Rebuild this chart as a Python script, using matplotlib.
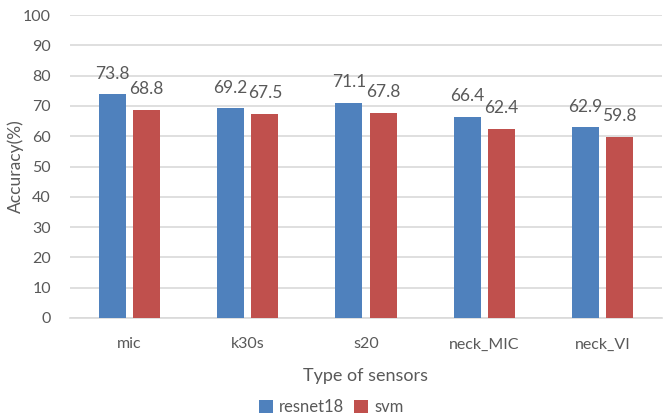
import matplotlib.pyplot as plt
import numpy as np

sensors = ['mic', 'k30s', 's20', 'neck_MIC', 'neck_VI']
resnet18 = [73.8, 69.2, 71.1, 66.4, 62.9]
svm = [68.8, 67.5, 67.8, 62.4, 59.8]

plt.rcParams['font.family'] = ['Lato', 'DejaVu Sans']
text_color = '#595959'
grid_color = '#D9D9D9'

fig = plt.figure(figsize=(6.63, 4.2), dpi=100)
ax = fig.add_axes([0.106, 0.243, 0.892, 0.721])

x = np.arange(len(sensors))
w = 0.23
off = 0.145
b1 = ax.bar(x - off, resnet18, w, color='#4F81BD', label='resnet18', zorder=3)
b2 = ax.bar(x + off, svm, w, color='#C0504D', label='svm', zorder=3)

for bars, vals in [(b1, resnet18), (b2, svm)]:
    for bar, v in zip(bars, vals):
        ax.annotate(f'{v}', (bar.get_x() + bar.get_width() / 2, v),
                    xytext=(0, 9), textcoords='offset points',
                    ha='center', va='bottom', fontsize=12.5, color=text_color)

ax.set_xlim(-0.5, len(sensors) - 0.5)
ax.set_ylim(0, 100)
ax.set_yticks(range(0, 101, 10))
ax.set_xticks(x)
ax.set_xticklabels(sensors)
ax.yaxis.grid(True, color=grid_color, linewidth=1.2, zorder=0)
for s in ['top', 'right', 'left']:
    ax.spines[s].set_visible(False)
ax.spines['bottom'].set_color(grid_color)
ax.spines['bottom'].set_linewidth(1.2)
ax.tick_params(axis='both', length=0, labelsize=11.5, colors=text_color)
ax.tick_params(axis='x', pad=14)
ax.tick_params(axis='y', pad=14)

ax.set_xlabel('Type of sensors', fontsize=13, color=text_color, labelpad=12)
ax.set_ylabel('Accuracy(%)', fontsize=12.5, color=text_color, va='center')
ax.yaxis.set_label_coords(-0.093, 0.5)

fig.legend(handles=[b1, b2], loc='center', bbox_to_anchor=(0.5, 0.03),
           ncol=2, frameon=False, fontsize=12, handlelength=0.8,
           handleheight=0.8, handletextpad=0.4, columnspacing=0.6,
           labelcolor=text_color)

fig.savefig('out.png', dpi=100)
